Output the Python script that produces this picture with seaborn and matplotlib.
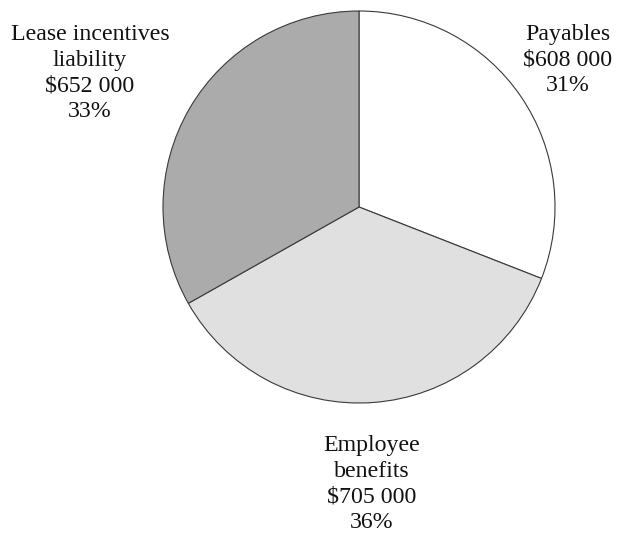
import matplotlib
matplotlib.use("Agg")
import matplotlib.pyplot as plt
import seaborn as sns

categories = ["Payables", "Employee benefits", "Lease incentives liability"]
label_lines = [["Payables"], ["Employee", "benefits"], ["Lease incentives", "liability"]]
values = [608000, 705000, 652000]
colors = ["#ffffff", "#e0e0e0", "#ababab"]

sns.set_theme(style="white")
plt.rcParams["font.family"] = ["Liberation Serif", "DejaVu Serif"]

W, H = 628, 534
fig = plt.figure(figsize=(W / 100, H / 100), dpi=100)
ax = fig.add_axes([0, 0, 1, 1])

cx, cy, r = 359, H - 207, 196
ax.pie(values, colors=colors, startangle=90, counterclock=False,
       center=(cx, cy), radius=r, frame=True,
       wedgeprops=dict(edgecolor="#3a3a3a", linewidth=0.8))
ax.set_xlim(0, W)
ax.set_ylim(0, H)
ax.set_aspect("equal")
ax.axis("off")

total = sum(values)
# label block centres (pixel space, measured from the top)
label_pos = [(568, 60), (372, 484), (90, 73)]
for lines, v, (x, y) in zip(label_lines, values, label_pos):
    txt = "\n".join(lines + [f"${v:,}".replace(",", " "), f"{round(100 * v / total)}%"])
    ax.text(x, H - y, txt, ha="center", va="center", fontsize=17.2,
            linespacing=1.3, color="#111111")

fig.savefig("out.png", dpi=100)
